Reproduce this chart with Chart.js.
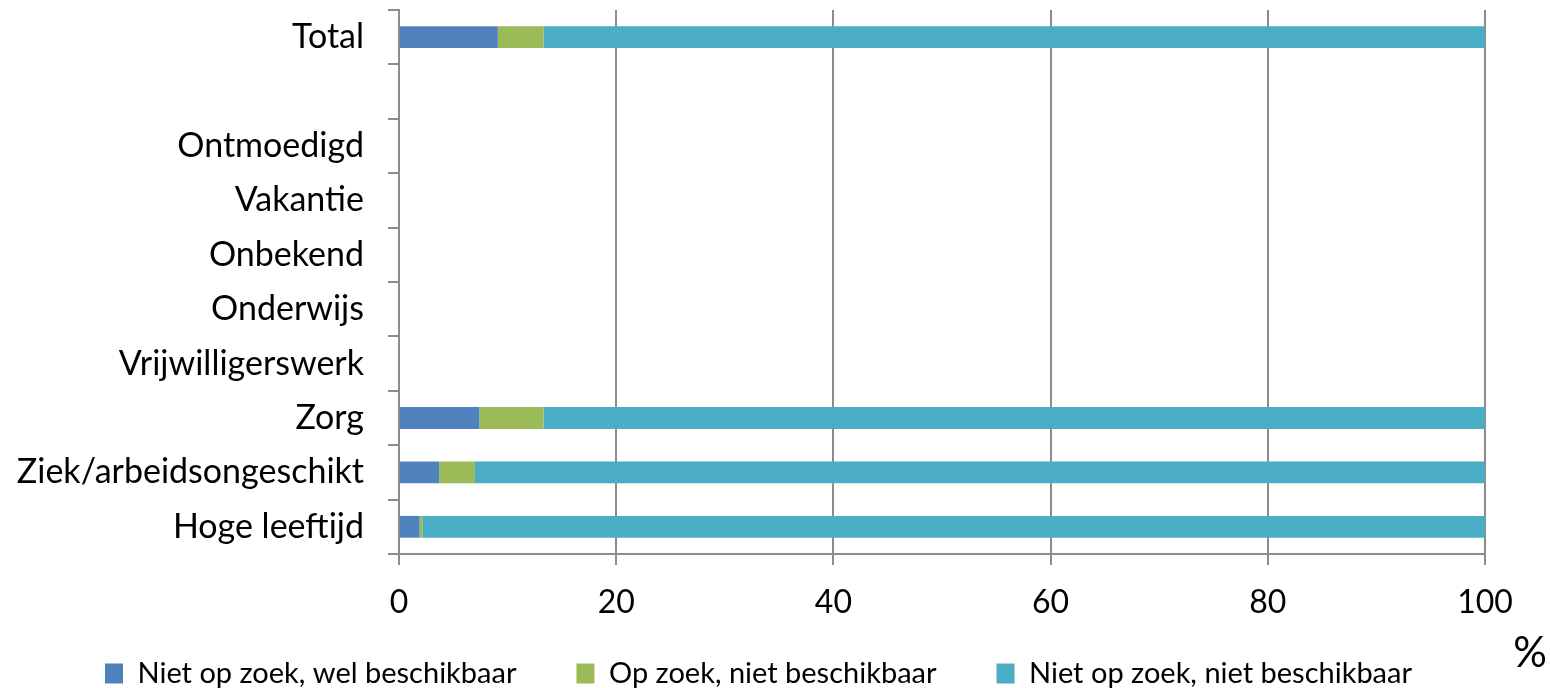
<!DOCTYPE html>
<html>
<head>
<meta charset="utf-8">
<script src="https://cdn.jsdelivr.net/npm/chart.js@4/dist/chart.umd.min.js"></script>
<style>
  html, body { margin: 0; padding: 0; background: #fff; }
  #wrap { width: 1550px; height: 688px; }
</style>
</head>
<body>
<div id="wrap"><canvas id="chart"></canvas></div>
<script>
const categories = ['Total', '', 'Ontmoedigd', 'Vakantie', 'Onbekend', 'Onderwijs',
    'Vrijwilligerswerk', 'Zorg', 'Ziek/arbeidsongeschikt', 'Hoge leeftijd'];
const seriesNames = ['Niet op zoek, wel beschikbaar', 'Op zoek, niet beschikbaar', 'Niet op zoek, niet beschikbaar'];
const nietZoekWelBeschikbaar = [9.1, null, null, null, null, null, null, 7.4, 3.7, 1.9];
const opZoekNietBeschikbaar = [4.2, null, null, null, null, null, null, 5.9, 3.3, 0.3];
const nietZoekNietBeschikbaar = [86.7, null, null, null, null, null, null, 86.7, 93.0, 97.8];
const xTicks = [0, 20, 40, 60, 80, 100];

const gridColor = '#8c8c8c';
const fontFamily = 'Lato, "Open Sans", sans-serif';

// "%" label next to the x axis, bottom right
const percentLabel = {
    id: 'percentLabel',
    afterLayout(chart) {
        // axes are squeezed for layout, let their labels draw outside them
        chart.scales.x.bottom = chart.height;
        chart.scales.y.left = 0;
    },
    afterDraw(chart) {
        const ctx = chart.ctx;
        const area = chart.chartArea;
        ctx.save();
        ctx.font = '42px ' + fontFamily;
        ctx.fillStyle = '#000';
        ctx.textAlign = 'center';
        ctx.textBaseline = 'middle';
        ctx.fillText('%', area.right + 45, area.bottom + 99);
        ctx.restore();
    }
};

new Chart(document.getElementById('chart'), {
    type: 'bar',
    data: {
        labels: categories,
        datasets: [{
            label: seriesNames[0],
            data: nietZoekWelBeschikbaar,
            backgroundColor: '#4F81BD'
        }, {
            label: seriesNames[1],
            data: opZoekNietBeschikbaar,
            backgroundColor: '#9BBB59'
        }, {
            label: seriesNames[2],
            data: nietZoekNietBeschikbaar,
            backgroundColor: '#4BACC6'
        }]
    },
    options: {
        indexAxis: 'y',
        responsive: true,
        maintainAspectRatio: false,
        animation: false,
        datasets: {
            bar: {
                barPercentage: 0.4,
                categoryPercentage: 1
            }
        },
        layout: {
            padding: { top: 10, right: 65, bottom: -10, left: 32 }
        },
        plugins: {
            legend: {
                position: 'bottom',
                labels: {
                    boxWidth: 18,
                    boxHeight: 20,
                    padding: 60,
                    color: '#000',
                    font: { family: fontFamily, size: 29 }
                }
            },
            tooltip: { enabled: false }
        },
        scales: {
            x: {
                stacked: true,
                min: 0,
                max: 100,
                afterBuildTicks: function(scale) {
                    scale.ticks = xTicks.map(v => ({ value: v }));
                },
                afterFit: function(scale) {
                    scale.height = 45;
                },
                grid: {
                    color: gridColor,
                    lineWidth: 2,
                    tickLength: 11
                },
                border: { color: gridColor, width: 2 },
                ticks: {
                    color: '#000',
                    padding: 18,
                    maxRotation: 0,
                    font: { family: fontFamily, size: 32 }
                }
            },
            y: {
                stacked: true,
                afterFit: function(scale) {
                    scale.width = 367;
                    scale.paddingTop = 0;
                    scale.paddingBottom = 0;
                },
                grid: {
                    color: gridColor,
                    lineWidth: 2,
                    drawOnChartArea: false,
                    tickLength: 11
                },
                border: { color: gridColor, width: 2 },
                ticks: {
                    color: '#000',
                    padding: 24,
                    autoSkip: false,
                    font: { family: fontFamily, size: 34 }
                }
            }
        }
    },
    plugins: [percentLabel]
});
</script>
</body>
</html>
